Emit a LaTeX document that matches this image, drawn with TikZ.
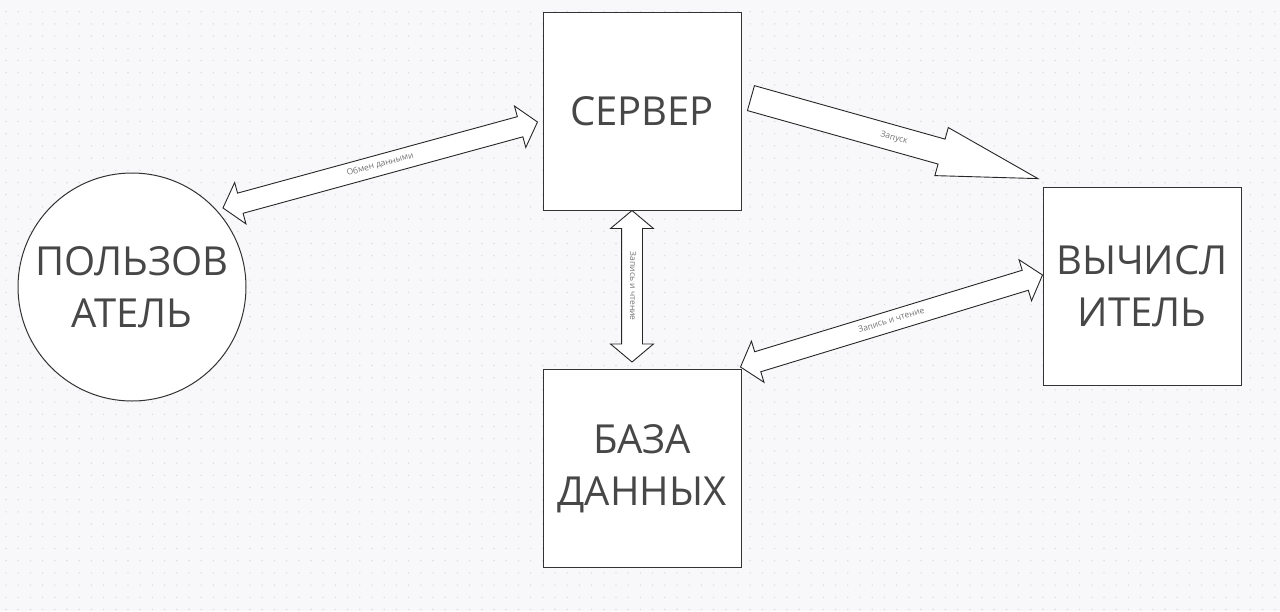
\documentclass[tikz,border=0pt]{standalone}
\usepackage{fontspec}
\setmainfont{Open Sans}
\usetikzlibrary{shapes.arrows,calc}
\definecolor{canvas}{HTML}{F8F8FA}
\definecolor{dotgray}{HTML}{DCDCE0}
\definecolor{ink}{HTML}{474747}

\begin{document}
\begin{tikzpicture}
  [x=1pt,y=-1pt,
   block/.style={draw=black!80,fill=white,line width=1pt,minimum size=198pt,inner sep=0pt,
                 align=center,font=\fontsize{40}{52}\selectfont,text=ink},
   blob/.style={block,circle,minimum size=228pt},
   tag/.style={font=\fontsize{8.5}{9}\selectfont,text=black!55,inner sep=0pt},
   twoway/.style={tag,draw=black!85,fill=white,line width=0.9pt,double arrow,
                  text height=6pt,text depth=2pt,inner ysep=6pt,
                  double arrow head extend=11pt,double arrow tip angle=100},
   oneway/.style={draw=black!85,fill=white,line width=0.9pt,single arrow,inner xsep=0pt,
                  text height=6pt,text depth=2pt,inner ysep=8.5pt,
                  single arrow head extend=12pt,single arrow tip angle=28}]
  \fill[canvas] (0,0) rectangle (1280,611);
  \useasboundingbox (0,0) rectangle (1280,611);
  \foreach \i in {0,...,104}
    \foreach \j in {0,...,49}
      \fill[dotgray] ({6+12.2*\i},{11.7+12.2*\j}) circle (0.8pt);

  \node[blob] (user) at (132,287) {ПОЛЬЗОВ\\АТЕЛЬ};
  \node[block] (server) at (642,111) {СЕРВЕР};
  \node[block] (comp) at (1142,286) {ВЫЧИСЛ\\ИТЕЛЬ};
  \node[block] (db) at (642,468.5) {БАЗА\\ДАННЫХ};

  \coordinate (u1) at ($(user.41)!-6pt!(user.center)$);
  \coordinate (s1) at ($(server.west)+(-5,11)$);
  \coordinate (s2) at ($(server.south)+(-10,0)$);
  \coordinate (s3) at ($(server.east)+(9,-13)$);
  \coordinate (d1) at ($(db.north)+(-10,-7)$);
  \coordinate (d2) at ($(db.north east)+(-1,-2)$);
  \coordinate (c1) at ($(comp.north west)+(-5,-8)$);
  \coordinate (c2) at ($(comp.west)+(0,-11)$);

  \foreach \from/\to/\what in {u1/s1/Обмен данными,s2/d1/Запись и чтение,d2/c2/Запись и чтение}
    \path let \p1=($(\to)-(\from)$) in
      node[twoway,minimum height={veclen(\x1,\y1)},rotate={atan2(\y1,\x1)}] at ($(\from)!0.5!(\to)$) {\what};
  \path let \p1=($(c1)-(s3)$) in
    node[oneway,minimum height={veclen(\x1,\y1)},rotate={atan2(\y1,\x1)},anchor=tail] (run) at (s3) {}
    node[tag,rotate={atan2(\y1,\x1)}] (runtag) at ($(s3)!0.5!(c1)$) {Запуск};
\end{tikzpicture}
\end{document}
